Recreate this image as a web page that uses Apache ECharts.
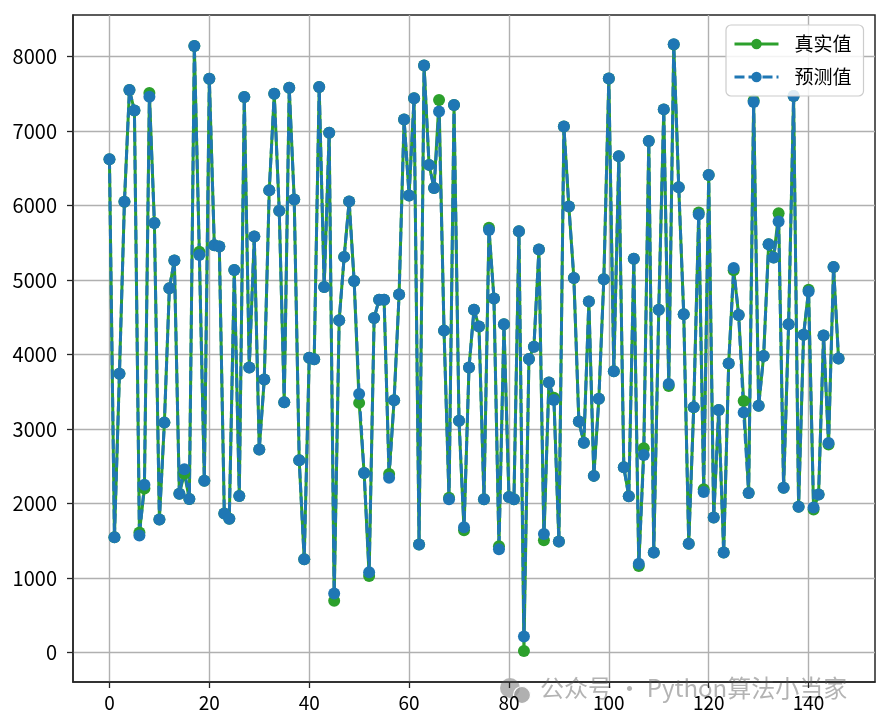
<!DOCTYPE html>
<html>
<head>
<meta charset="utf-8">
<script src="https://cdn.jsdelivr.net/npm/echarts@6/dist/echarts.min.js"></script>
<style>
html,body{margin:0;padding:0;background:#fff;}
#chart{width:878px;height:723px;}
</style>
</head>
<body>
<div id="chart"></div>
<script>
// ---- data ----
const seriesNames = ['真实值', '预测值'];
const xTicks = [0, 20, 40, 60, 80, 100, 120, 140];
const yTicks = [0, 1000, 2000, 3000, 4000, 5000, 6000, 7000, 8000];

const trueVals = [
  6620, 1545, 3740, 6050, 7550, 7275, 1610, 2200, 7510, 5765,
  1785, 3085, 4890, 5260, 2130, 2400, 2060, 8140, 5380, 2305,
  7700, 5465, 5450, 1865, 1795, 5135, 2100, 7455, 3825, 5585,
  2725, 3665, 6205, 7500, 5930, 3360, 7580, 6080, 2580, 1250,
  3955, 3935, 7590, 4905, 6975, 695, 4460, 5310, 6055, 4985,
  3350, 2410, 1025, 4490, 4735, 4735, 2395, 3385, 4805, 7155,
  6135, 7440, 1450, 7880, 6545, 6235, 7415, 4320, 2075, 7350,
  3110, 1640, 3825, 4600, 4375, 2055, 5700, 4750, 1425, 4405,
  2085, 2055, 5655, 20, 3940, 4105, 5410, 1505, 3625, 3420,
  1490, 7060, 5985, 5025, 3100, 2815, 4710, 2370, 3405, 5010,
  7705, 3775, 6660, 2485, 2095, 5285, 1160, 2740, 6865, 1340,
  4600, 7290, 3575, 8160, 6245, 4540, 1460, 3290, 5905, 2190,
  6410, 1810, 3255, 1340, 3880, 5130, 4530, 3375, 2140, 7410,
  3310, 3980, 5480, 5300, 5895, 2210, 4405, 7470, 1955, 4265,
  4870, 1920, 2120, 4255, 2790, 5175, 3945
];

const predVals = [
  6620, 1545, 3740, 6050, 7550, 7275, 1570, 2250, 7460, 5765,
  1785, 3085, 4890, 5260, 2130, 2460, 2060, 8140, 5335, 2305,
  7700, 5465, 5450, 1865, 1795, 5135, 2100, 7455, 3825, 5585,
  2725, 3665, 6205, 7500, 5930, 3360, 7580, 6080, 2580, 1250,
  3955, 3935, 7590, 4905, 6975, 790, 4460, 5310, 6055, 4985,
  3470, 2410, 1075, 4490, 4735, 4735, 2345, 3385, 4805, 7155,
  6135, 7440, 1450, 7880, 6545, 6235, 7260, 4320, 2055, 7350,
  3110, 1680, 3825, 4600, 4375, 2055, 5670, 4750, 1385, 4405,
  2085, 2055, 5655, 215, 3940, 4105, 5410, 1590, 3625, 3390,
  1490, 7060, 5985, 5025, 3100, 2815, 4710, 2370, 3405, 5010,
  7705, 3775, 6660, 2485, 2095, 5285, 1190, 2650, 6865, 1340,
  4600, 7290, 3605, 8165, 6245, 4540, 1460, 3290, 5880, 2155,
  6410, 1810, 3255, 1340, 3880, 5160, 4530, 3220, 2140, 7390,
  3310, 3980, 5480, 5300, 5785, 2210, 4405, 7470, 1955, 4265,
  4845, 1945, 2120, 4255, 2810, 5175, 3945
];

const watermark = '公众号 · Python算法小当家';

// ---- chart ----
const FONT = '"Noto Sans CJK SC", "Noto Sans", sans-serif';
const chart = echarts.init(document.getElementById('chart'), null, {renderer: 'canvas'});

const toPairs = arr => arr.map((v, i) => [i, v]);

const option = {
  animation: false,
  backgroundColor: '#ffffff',
  grid: {
    left: 73, top: 15, right: 3, bottom: 41,
    show: true, borderColor: '#262626', borderWidth: 1.5, backgroundColor: 'transparent'
  },
  xAxis: {
    type: 'value',
    min: -7.3, max: 153.3,
    axisLine: {show: true, onZero: false, lineStyle: {color: '#262626', width: 1.5}},
    axisTick: {show: true, length: 6, inside: false, customValues: xTicks, lineStyle: {color: '#262626', width: 1.3}},
    axisLabel: {show: true, customValues: xTicks, margin: 11, color: '#000', fontSize: 19, fontFamily: FONT,
      formatter: v => String(v)},
    splitLine: {show: true, lineStyle: {color: '#b0b0b0', width: 1.4}}
  },
  yAxis: {
    type: 'value',
    min: -397, max: 8557,
    axisLine: {show: true, onZero: false, lineStyle: {color: '#262626', width: 1.5}},
    axisTick: {show: true, length: 6, inside: false, customValues: yTicks, lineStyle: {color: '#262626', width: 1.3}},
    axisLabel: {show: true, customValues: yTicks, margin: 16, color: '#000', fontSize: 20, fontFamily: FONT,
      formatter: v => String(v)},
    splitLine: {show: true, lineStyle: {color: '#b0b0b0', width: 1.4}}
  },
  legend: {
    left: 726, top: 25,
    orient: 'vertical',
    backgroundColor: 'rgba(255,255,255,0.85)',
    borderColor: '#cccccc', borderWidth: 1.2, borderRadius: 5,
    padding: [8, 12, 8, 7],
    itemWidth: 44, itemHeight: 13, itemGap: 11,
    lineStyle: {width: 3},
    textStyle: {fontSize: 19, fontFamily: FONT, color: '#000', padding: [0, 0, 0, 11], lineHeight: 22},
    data: seriesNames
  },
  series: [
    {
      name: seriesNames[0], type: 'line', data: toPairs(trueVals),
      symbol: 'circle', symbolSize: 12, showSymbol: true,
      lineStyle: {color: '#2ca02c', width: 3, type: 'solid'},
      itemStyle: {color: '#2ca02c', borderWidth: 0},
      emphasis: {disabled: true}
    },
    {
      name: seriesNames[1], type: 'line', data: toPairs(predVals),
      symbol: 'circle', symbolSize: 12, showSymbol: true,
      lineStyle: {color: '#1f77b4', width: 3, type: [10, 4]},
      itemStyle: {color: '#1f77b4', borderWidth: 0},
      emphasis: {disabled: true}
    }
  ],
  graphic: [
    {
      type: 'group', z: 200, silent: true,
      children: [
        {type: 'circle', shape: {cx: 510, cy: 688, r: 10}, style: {fill: 'rgba(150,150,150,0.7)'}},
        {type: 'circle', shape: {cx: 522, cy: 695, r: 8.5}, style: {fill: 'rgba(150,150,150,0.75)', stroke: '#fff', lineWidth: 1.2}},
        {type: 'text', left: 540, top: 676, style: {text: watermark, fontSize: 24, fontFamily: FONT, fill: 'rgba(160,160,160,0.8)'}}
      ]
    }
  ]
};
chart.setOption(option);
</script>
</body>
</html>
